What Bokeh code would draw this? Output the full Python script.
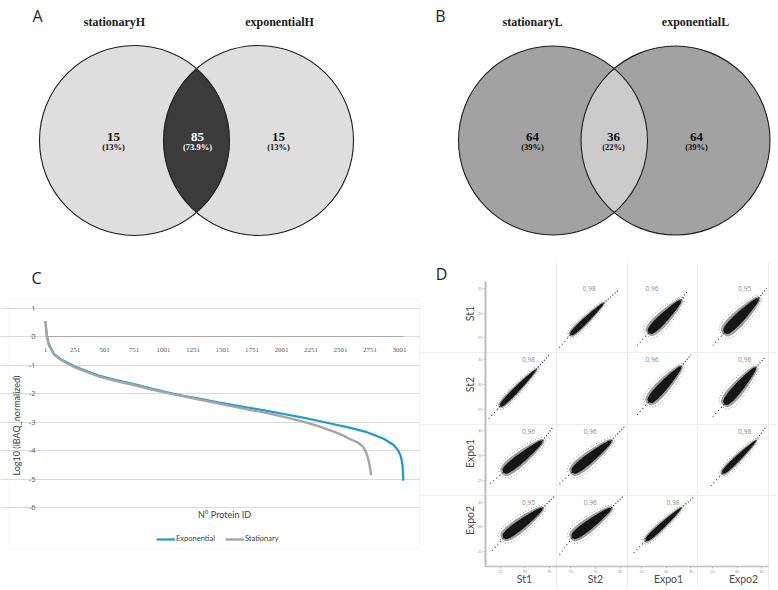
import numpy as np
from bokeh.plotting import figure
from bokeh.layouts import row, column
from bokeh.models import (Range1d, LinearAxis, FixedTicker, Grid, BoxAnnotation,
                          Legend, LegendItem, CustomJSTickFormatter)
from bokeh.core.properties import value
from bokeh.embed import file_html
from bokeh.resources import INLINE

# ---------------- data ----------------
venn_a_names = ["stationaryH", "exponentialH"]
venn_a_counts = ["15", "85", "15"]
venn_a_percents = ["(13%)", "(73.9%)", "(13%)"]
venn_b_names = ["stationaryL", "exponentialL"]
venn_b_counts = ["64", "36", "64"]
venn_b_percents = ["(39%)", "(22%)", "(39%)"]

c_x_ticks = [1, 251, 501, 751, 1001, 1251, 1501, 1751, 2001, 2251, 2501, 2751, 3001]
c_y_ticks = [1, 0, -1, -2, -3, -4, -5, -6]
expo_rank = [1, 8, 15, 30, 72, 130, 185, 255, 360, 467, 600, 750, 900, 1031, 1170, 1314,
             1450, 1596, 1740, 1879, 2020, 2161, 2300, 2444, 2585, 2726, 2867, 2952, 2990,
             3008, 3020, 3027, 3031, 3033]
expo_log = [0.55, 0.2, 0.0, -0.25, -0.6, -0.78, -0.9, -1.05, -1.22, -1.38, -1.52, -1.66,
            -1.82, -1.95, -2.07, -2.18, -2.29, -2.4, -2.5, -2.6, -2.71, -2.82, -2.94,
            -3.07, -3.2, -3.35, -3.58, -3.8, -4.0, -4.15, -4.35, -4.55, -4.8, -5.06]
stat_rank = [1, 8, 15, 30, 72, 130, 185, 255, 360, 467, 600, 750, 900, 1031, 1170, 1314,
             1450, 1596, 1740, 1879, 2020, 2161, 2300, 2444, 2530, 2585, 2650, 2690, 2712,
             2730, 2745, 2755, 2760]
stat_log = [0.56, 0.2, -0.02, -0.3, -0.62, -0.8, -0.93, -1.08, -1.25, -1.41, -1.55, -1.69,
            -1.85, -1.97, -2.09, -2.21, -2.33, -2.45, -2.57, -2.68, -2.81, -2.95, -3.12,
            -3.33, -3.48, -3.6, -3.72, -3.85, -4.0, -4.2, -4.45, -4.7, -4.87]

d_samples = ["St1", "St2", "Expo1", "Expo2"]
d_axis_ticks = [25, 30, 35]
d_corr = [[None, "0,98", "0,96", "0,95"],
          ["0,98", None, "0,96", "0,96"],
          ["0,96", "0,96", None, "0,98"],
          ["0,95", "0,96", "0,98", None]]
cloud_row = [0, 0, 0, 1, 1, 1, 2, 2, 2, 3, 3, 3]
cloud_col = [1, 2, 3, 0, 2, 3, 0, 1, 3, 0, 1, 2]
cloud_lo_x = [24.9, 26.4, 27.4, 25.0, 26.4, 27.4, 25.6, 25.2, 27.0, 25.6, 25.2, 25.8]
cloud_lo_y = [25.6, 26.0, 26.0, 25.6, 26.4, 26.0, 26.6, 26.6, 26.4, 27.8, 27.8, 27.2]
cloud_hi_x = [31.6, 33.0, 34.4, 32.3, 33.0, 33.8, 33.6, 33.2, 33.8, 33.6, 33.2, 33.0]
cloud_hi_y = [32.0, 32.6, 33.0, 33.0, 33.6, 33.4, 33.0, 33.0, 33.0, 33.8, 33.8, 33.8]
cloud_tail_x = [34.6, 34.4, 36.0, 35.0, 35.0, 35.8, 35.6, 36.0, 36.0, 36.0, 35.6, 35.8]
cloud_tail_y = [34.6, 34.6, 35.0, 36.0, 36.0, 35.6, 35.6, 36.0, 36.0, 36.2, 36.2, 36.2]
cloud_low_x = [22.6, 24.0, 25.0, 22.6, 24.0, 25.0, 22.6, 22.4, 24.4, 23.2, 22.4, 23.2]
cloud_low_y = [23.0, 23.4, 23.4, 23.0, 23.8, 23.4, 24.0, 24.0, 23.6, 25.0, 24.0, 24.6]
cloud_spread = [1.7, 2.8, 3.0, 1.7, 2.8, 2.8, 2.8, 2.8, 1.7, 2.8, 2.8, 1.7]

# ---------------- layout constants (picture pixels) ----------------
TOP_H, BOT_H = 262, 326
A_W, B_W, C_W, D_W = 390, 386, 420, 356
LETTER_FONT = "Open Sans"
SERIF = "Liberation Serif"


def base_fig(w, h, xr, yr):
    return figure(width=w, height=h, x_range=xr, y_range=yr, output_backend="svg",
                  toolbar_location=None, x_axis_type=None, y_axis_type=None, title=None,
                  min_border=0, outline_line_color=None, background_fill_color="white",
                  border_fill_color="white")


def txt(p, xs, ys, texts, size, color="black", font=LETTER_FONT, style="normal",
        align="center", angle=0.0):
    p.text(x=xs, y=ys, text=texts, text_font=value(font), text_font_size=size,
           text_color=color, text_font_style=style, text_align=align,
           text_baseline="middle", angle=angle)


def venn(x0, w, centers, radius, outer_fill, lens_fill, names, name_x, counts, percents,
         count_x, count_colors, letter, letter_xy):
    p = base_fig(w, TOP_H, Range1d(x0, x0 + w), Range1d(TOP_H, 0))
    xs = [c[0] for c in centers]
    ys = [c[1] for c in centers]
    p.circle(x=xs, y=ys, radius=radius, fill_color=outer_fill, line_color=None)
    (x1, y1), (x2, y2) = centers
    a = (x2 - x1) / 2.0
    t = np.arccos(a / radius)
    th1 = np.linspace(-t, t, 90)
    th2 = np.linspace(np.pi - t, np.pi + t, 90)
    lx = np.concatenate([x1 + radius * np.cos(th1), x2 + radius * np.cos(th2)])
    ly = np.concatenate([y1 + radius * np.sin(th1), y2 + radius * np.sin(th2)])
    p.patch(lx, ly, fill_color=lens_fill, line_color=None)
    p.circle(x=xs, y=ys, radius=radius, fill_color=None, line_color="#1e1e1e", line_width=1.1)
    txt(p, name_x, [21, 21], names, "12px", font=SERIF, style="bold", color="#1a1a1a")
    txt(p, count_x, [136] * 3, counts, "13px", font=SERIF, style="bold", color=count_colors)
    txt(p, count_x, [146.5] * 3, percents, "8.5px", font=SERIF, style="bold", color=count_colors)
    txt(p, [letter_xy[0]], [letter_xy[1]], [letter], "16px", color="#222222")
    return p


pa = venn(0, A_W, [(134, 140), (258, 140)], 95, "#dedede", "#3b3b3b",
          venn_a_names, [114, 279], venn_a_counts, venn_a_percents, [113, 197, 278],
          ["#111111", "#ffffff", "#111111"], "A", (37, 15))
pb = venn(A_W, B_W, [(552.5, 140), (675, 140)], 94.5, "#a2a2a2", "#cbcbcb",
          venn_b_names, [532, 695], venn_b_counts, venn_b_percents, [532, 613, 696],
          ["#111111", "#111111", "#111111"], "B", (440, 15.5))

# ---------------- panel C ----------------
C_SX = (399.0 - 45.0) / 3000.0
C_SY = (507.0 - 308.0) / 7.0


def cxd(px):
    return 1 + (px - 45.0) / C_SX


def cyd(py):
    return 1 - (py - 308.0) / C_SY


BOT_TOP = TOP_H
pc = base_fig(C_W, BOT_H, Range1d(cxd(0), cxd(C_W)), Range1d(cyd(BOT_TOP + BOT_H), cyd(BOT_TOP)))
pc.add_layout(BoxAnnotation(left=cxd(8.5), right=cxd(419), top=cyd(299), bottom=cyd(548),
                            fill_color=None, line_color="#d9d9d9", line_width=1))
plot_right = cxd(403)
pc.add_layout(Grid(dimension=1, ticker=FixedTicker(ticks=c_y_ticks), bounds=(1, plot_right),
                   grid_line_color="#d9d9d9", grid_line_width=1))
yax = LinearAxis(fixed_location=1, ticker=FixedTicker(ticks=c_y_ticks),
                 formatter=CustomJSTickFormatter(code="return tick.toFixed(0);"),
                 axis_line_color=None, major_tick_line_color=None, minor_tick_line_color=None,
                 major_label_text_font_size="7.5px", major_label_text_color="#595959",
                 major_label_text_font=LETTER_FONT, major_label_standoff=4,
                 axis_label="Log10 (iBAQ_normalized)", axis_label_text_font="Lato",
                 axis_label_text_font_size="9px", axis_label_text_font_style="normal",
                 axis_label_text_color="#404040", axis_label_standoff=4)
pc.add_layout(yax, "left")
xax = LinearAxis(fixed_location=0, ticker=FixedTicker(ticks=c_x_ticks), bounds=(1, plot_right),
                 axis_line_color="#a6a6a6", axis_line_width=1, major_tick_line_color=None,
                 minor_tick_line_color=None, major_label_text_font_size="7px",
                 major_label_text_color="#595959", major_label_text_font=SERIF,
                 major_label_standoff=5)
pc.add_layout(xax, "below")
r_exp = pc.line(expo_rank, expo_log, line_color="#1c9ad6", line_width=2.2)
r_sta = pc.line(stat_rank, stat_log, line_color="#a5a5a5", line_width=2.4)
txt(pc, [cxd(224)], [cyd(514)], ["N° Protein ID"], "9px", color="#404040", font="Lato")
txt(pc, [cxd(36)], [cyd(277.5)], ["C"], "16px", color="#222222")
leg = Legend(items=[LegendItem(label="Exponential", renderers=[r_exp]),
                    LegendItem(label="Stationary", renderers=[r_sta])],
             orientation="horizontal", location=(156, BOT_TOP + BOT_H - 543),
             border_line_color=None, background_fill_alpha=0, padding=0, margin=0, spacing=10,
             glyph_width=19, glyph_height=8, label_height=8, label_standoff=1,
             label_text_font_size="7.5px", label_text_font="Lato", label_text_color="#404040")
pc.add_layout(leg)

# ---------------- panel D ----------------
W = 14.4
V0 = 22.0
D_SX = 283.0 / (4 * W)
D_SY = 285.0 / (4 * W)


def dxd(px):
    return (px - 485.0) / D_SX


def dyd(py):
    return (566.0 - py) / D_SY


pd_ = base_fig(D_W, BOT_H, Range1d(dxd(C_W), dxd(C_W + D_W)), Range1d(dyd(BOT_TOP + BOT_H), dyd(BOT_TOP)))
pd_.add_layout(Grid(dimension=0, ticker=FixedTicker(ticks=[W, 2 * W, 3 * W, 4 * W]), bounds=(0, 4 * W),
                    grid_line_color="#ededed", grid_line_width=1))
pd_.add_layout(Grid(dimension=1, ticker=FixedTicker(ticks=[W, 2 * W, 3 * W]), bounds=(0, 4 * W),
                    grid_line_color="#ededed", grid_line_width=1))

n = len(d_samples)
tick_pos = sorted([k * W + (v - V0) for k in range(n) for v in d_axis_ticks])
js = "const k = Math.floor((tick + 1e-6) / W); return Math.round(tick - k * W + V0).toString();"
dy_ax = LinearAxis(fixed_location=0, ticker=FixedTicker(ticks=tick_pos),
                   formatter=CustomJSTickFormatter(args=dict(W=W, V0=V0), code=js),
                   bounds=(0, 4 * W), axis_line_color="#bdbdbd", axis_line_width=2,
                   major_tick_line_color="#bdbdbd", major_tick_out=2, major_tick_in=0,
                   minor_tick_line_color=None, major_label_text_font_size="4px",
                   major_label_text_color="#9a9a9a", major_label_standoff=1)
pd_.add_layout(dy_ax, "left")
dx_ax = LinearAxis(fixed_location=0, ticker=FixedTicker(ticks=tick_pos),
                   formatter=CustomJSTickFormatter(args=dict(W=W, V0=V0), code=js),
                   bounds=(0, 4 * W), axis_line_color="#bdbdbd", axis_line_width=1.5,
                   major_tick_line_color="#bdbdbd", major_tick_out=2, major_tick_in=0,
                   minor_tick_line_color=None, major_label_text_font_size="4px",
                   major_label_text_color="#9a9a9a", major_label_standoff=1)
pd_.add_layout(dx_ax, "below")

# clouds: tapered shapes (wide at the low end) drawn along each pair's point cloud
tt = np.linspace(0.0, 1.0, 40)
envelope = np.sqrt(np.clip(1 - (2 * tt - 1) ** 2, 0, 1)) ** 0.7 * (1.0 - 0.5 * tt)


def cloud_shape(ax_, ay_, bx_, by_, spread, grow_len, grow_w):
    dx, dy = bx_ - ax_, by_ - ay_
    L = np.hypot(dx, dy)
    ux, uy = dx / L, dy / L
    nx, ny = -uy, ux
    ext = (grow_len - 1) * L / 2
    px = ax_ - ux * ext + ux * tt * L * grow_len
    py = ay_ - uy * ext + uy * tt * L * grow_len
    hw = spread / 2 * grow_w * envelope * 1.25
    xs = np.concatenate([px + nx * hw, (px - nx * hw)[::-1]])
    ys = np.concatenate([py + ny * hw, (py - ny * hw)[::-1]])
    return list(xs), list(ys)


outer_x, outer_y, mid_x, mid_y, core_x, core_y = [], [], [], [], [], []
tx0, ty0, tx1, ty1, lx0, ly0, lx1, ly1 = [], [], [], [], [], [], [], []
for i in range(len(cloud_row)):
    r, c = cloud_row[i], cloud_col[i]
    ox, oy = c * W - V0, (n - 1 - r) * W - V0
    ax_, ay_ = ox + cloud_lo_x[i], oy + cloud_lo_y[i]
    bx_, by_ = ox + cloud_hi_x[i], oy + cloud_hi_y[i]
    xs, ys = cloud_shape(ax_, ay_, bx_, by_, cloud_spread[i], 1.14, 1.35)
    outer_x.append(xs); outer_y.append(ys)
    xs, ys = cloud_shape(ax_, ay_, bx_, by_, cloud_spread[i], 1.08, 1.05)
    mid_x.append(xs); mid_y.append(ys)
    xs, ys = cloud_shape(ax_, ay_, bx_, by_, cloud_spread[i], 1.0, 0.7)
    core_x.append(xs); core_y.append(ys)
    tx0.append(bx_); ty0.append(by_)
    tx1.append(ox + cloud_tail_x[i]); ty1.append(oy + cloud_tail_y[i])
    lx0.append(ax_); ly0.append(ay_)
    lx1.append(ox + cloud_low_x[i]); ly1.append(oy + cloud_low_y[i])

pd_.segment(tx0, ty0, tx1, ty1, line_color="#222222", line_width=1.2, line_dash="1 2")
pd_.segment(lx0, ly0, lx1, ly1, line_color="#333333", line_width=1.1, line_dash="1 3")
pd_.patches(outer_x, outer_y, fill_color=None, line_color="#444444", line_width=1,
            line_dash="1 2", line_alpha=0.55)
pd_.patches(mid_x, mid_y, fill_color="#111111", fill_alpha=0.4, line_color=None)
pd_.patches(core_x, core_y, fill_color="#0a0a0a", fill_alpha=0.92, line_color=None)

# correlation labels
lbl_dx_px = [[None, 33, 25, 47], [43, None, 25, 47], [43, 34, None, 47], [43, 34, 46, None]]
lbx, lby, lbt = [], [], []
for r in range(n):
    for c in range(n):
        if d_corr[r][c] is not None:
            lbx.append(c * W + lbl_dx_px[r][c] / D_SX)
            lby.append((n - r) * W - 7.0 / D_SY)
            lbt.append(d_corr[r][c])
txt(pd_, lbx, lby, lbt, "6.5px", color="#8a8a8a")

# row / column labels
txt(pd_, [dxd(469)] * n, [dyd(v) for v in [313, 384, 453, 520]], d_samples, "10.5px",
    color="#4a4a4a", font="Lato", angle=np.pi / 2)
txt(pd_, [dxd(v) for v in [524, 595, 668, 743]], [dyd(578)] * n, d_samples, "10.5px",
    color="#4a4a4a", font="Lato")
txt(pd_, [dxd(441)], [dyd(273)], ["D"], "16px", color="#222222")

layout = column(row(pa, pb, spacing=0), row(pc, pd_, spacing=0), spacing=0)
open("out.html", "w").write(file_html(layout, INLINE))
